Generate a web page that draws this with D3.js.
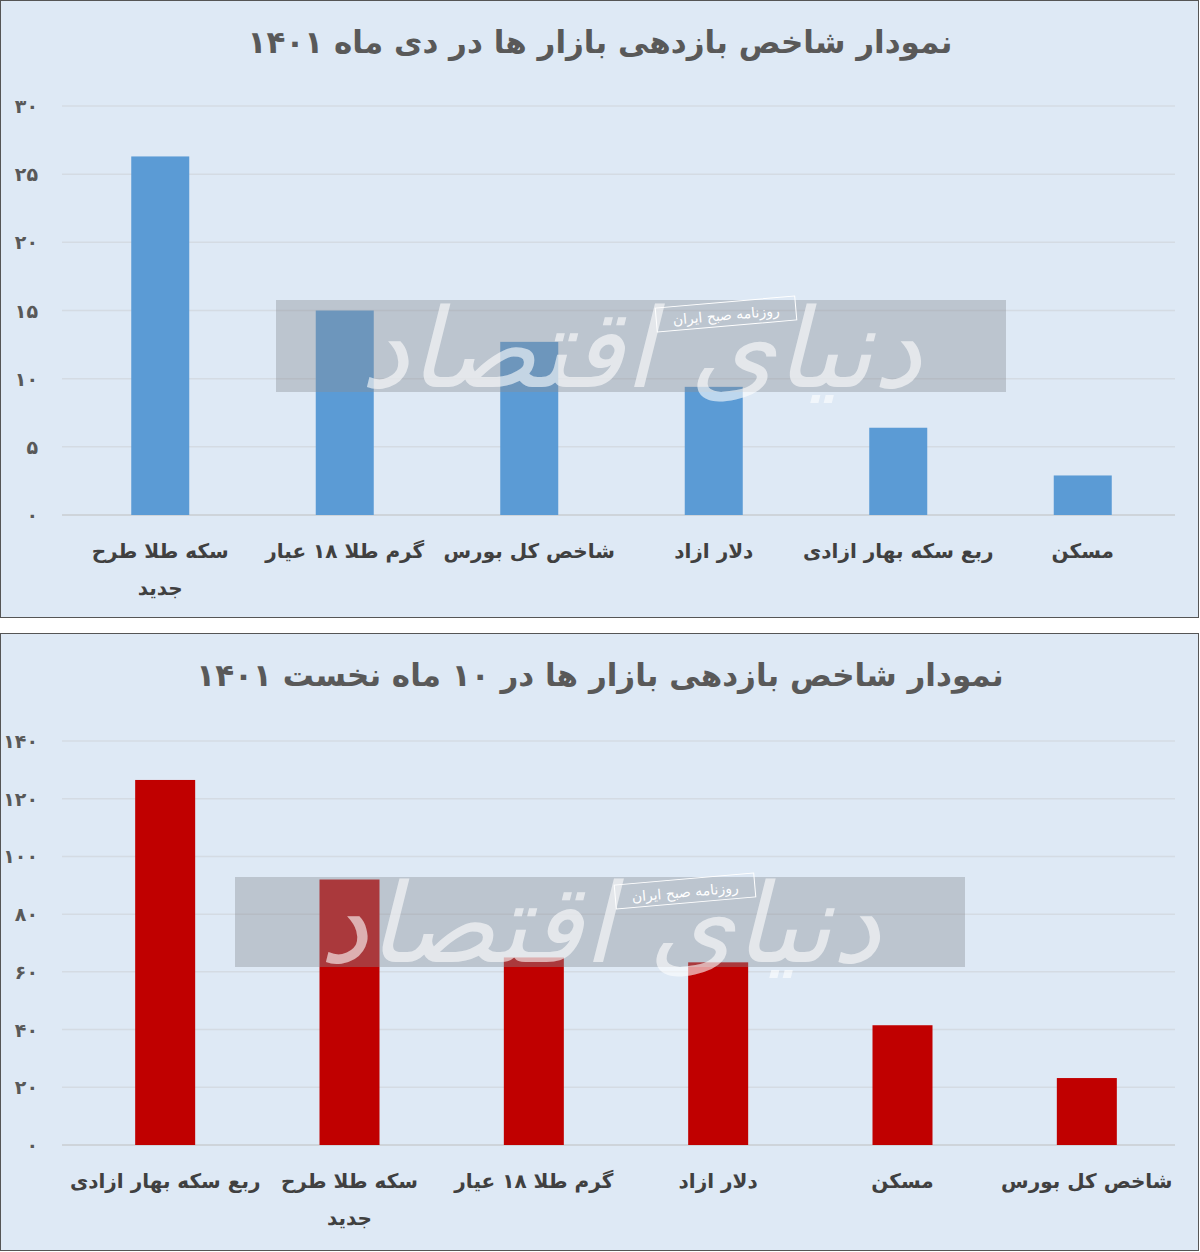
<!DOCTYPE html>
<html><head><meta charset="utf-8">
<script src="https://cdn.jsdelivr.net/npm/d3@7"></script>
<style>body{margin:0;background:#fff;font-family:"DejaVu Sans",sans-serif}</style>
</head><body><svg id="c" width="1200" height="1252"></svg>
<script>
const title1 = "نمودار شاخص بازدهی بازار ها در دی ماه ۱۴۰۱";
const cats1 = ["سکه طلا طرح جدید","گرم طلا ۱۸ عیار","شاخص کل بورس","دلار ازاد","ربع سکه بهار ازادی","مسکن"];
const vals1 = [26.3, 15.0, 12.7, 9.4, 6.4, 2.9];
const ticks1 = [0,5,10,15,20,25,30];
const title2 = "نمودار شاخص بازدهی بازار ها در ۱۰ ماه نخست ۱۴۰۱";
const cats2 = ["ربع سکه بهار ازادی","سکه طلا طرح جدید","گرم طلا ۱۸ عیار","دلار ازاد","مسکن","شاخص کل بورس"];
const vals2 = [126.5, 92, 65, 63.3, 41.5, 23.2];
const ticks2 = [0,20,40,60,80,100,120,140];
const fa = n => String(n).replace(/\d/g, d => "۰۱۲۳۴۵۶۷۸۹"[d]);
const svg = d3.select("#c");

function panel(y0, title, cats, vals, ticks, color, yTop, yBot, bw, wrapSplit, wm, xr) {
  const g = svg.append("g");
  g.append("rect").attr("x",0.5).attr("y",y0+0.5).attr("width",1198).attr("height",617)
    .attr("fill","#dee9f5").attr("stroke","#555");
  g.append("text").attr("x",600).attr("y",y0+53).attr("text-anchor","middle")
    .attr("font-size",31).attr("font-weight","bold").attr("fill","#595959").attr("direction","rtl").text(title);
  const y = d3.scaleLinear().domain([0, ticks[ticks.length-1]]).range([yBot, yTop]);
  const x = d3.scaleBand().domain(d3.range(cats.length)).range(xr).paddingInner(0.68).paddingOuter(0.34);
  g.selectAll(".gl").data(ticks).join("line").attr("x1",62).attr("x2",1175)
    .attr("y1",d=>y(d)).attr("y2",d=>y(d)).attr("stroke",d=>d===0?"#c8ccd0":"#d4dbe3").attr("stroke-width",1.5);
  g.selectAll(".tl").data(ticks).join("text").attr("x",38).attr("y",d=>y(d)+7).attr("text-anchor","end")
    .attr("font-size",19).attr("font-weight","bold").attr("fill","#595959").text(fa);
  g.selectAll(".bar").data(vals).join("rect").attr("x",(d,i)=>x(i)+x.bandwidth()/2-bw/2).attr("width",bw)
    .attr("y",d=>y(d)).attr("height",d=>yBot-y(d)).attr("fill",color);
  g.append("rect").attr("x",wm[0]).attr("y",wm[1]).attr("width",wm[2]).attr("height",wm[3])
    .attr("fill","#8a8f96").attr("opacity",0.4);
  g.append("rect").attr("x",wm[0]+380).attr("y",wm[1]+2).attr("width",140).attr("height",24)
    .attr("fill","none").attr("stroke","#fff").attr("transform",`rotate(-5 ${wm[0]+450} ${wm[1]+14})`);
  g.append("text").attr("x",wm[0]+450).attr("y",wm[1]+20).attr("text-anchor","middle").attr("fill","#fff")
    .attr("font-size",14).attr("direction","rtl").attr("transform",`rotate(-5 ${wm[0]+450} ${wm[1]+14})`).text("روزنامه صبح ایران");
  g.append("text").attr("x",wm[0]+wm[2]/2).attr("y",wm[1]+wm[3]-5).attr("text-anchor","middle").attr("fill","#fff")
    .attr("opacity",0.6).attr("font-size",110).attr("font-style","italic").attr("direction","rtl").text("دنیای اقتصاد");
  cats.forEach((c,i)=>{
    const lines = wrapSplit.includes(i) ? [c.split(" ").slice(0,3).join(" "), c.split(" ").slice(3).join(" ")] : [c];
    const t = g.append("text").attr("x",x(i)+x.bandwidth()/2).attr("y",yBot+43).attr("text-anchor","middle")
      .attr("font-size",20).attr("font-weight","bold").attr("fill","#404040").attr("direction","rtl");
    lines.forEach((l,k)=>t.append("tspan").attr("x",x(i)+x.bandwidth()/2).attr("dy",k?37:0).text(l));
  });
}
panel(0, title1, cats1, vals1, ticks1, "#5b9bd5", 106, 515, 58, [0], [276,300,730,92], [68,1175]);
panel(633, title2, cats2, vals2, ticks2, "#c00000", 741, 1145, 60, [1], [235,877,730,90], [73,1179]);
</script></body></html>
